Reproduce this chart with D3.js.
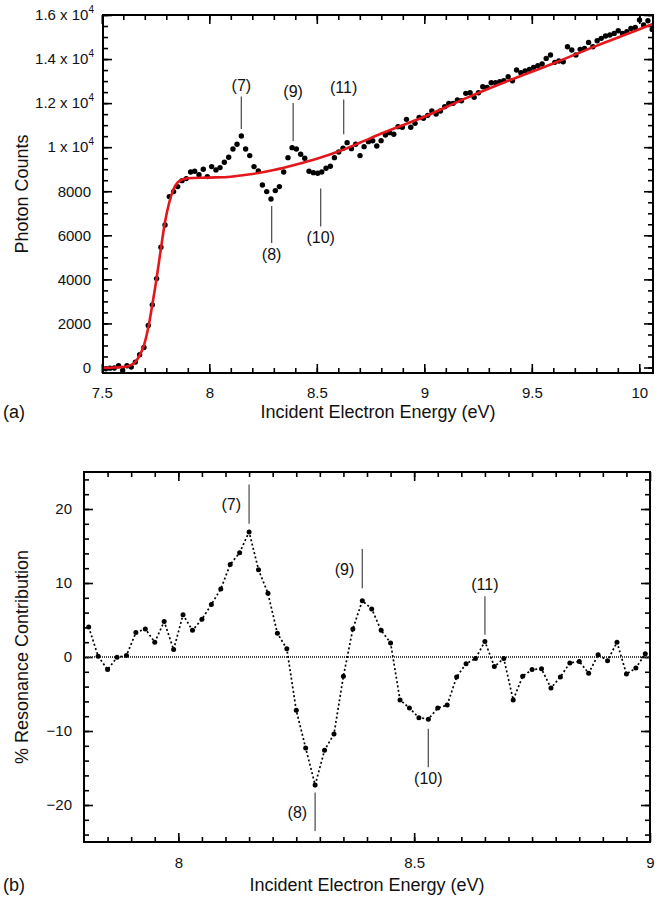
<!DOCTYPE html>
<html>
<head>
<meta charset="utf-8">
<script src="https://cdn.jsdelivr.net/npm/d3@7"></script>
<style>
  body { margin: 0; background: #fff; }
  svg { display: block; font-family: "Liberation Sans", Arial, sans-serif; }
</style>
</head>
<body>
<svg id="chart" width="665" height="915"></svg>
<script>
// ---- panel (a): photon counts vs incident energy (energies)
const energyA = [
  7.519, 7.538, 7.558, 7.578, 7.597, 7.617, 7.637, 7.656, 7.676, 7.696,
  7.716, 7.735, 7.755, 7.775, 7.794, 7.814, 7.834, 7.853, 7.873, 7.893,
  7.913, 7.932, 7.952, 7.972, 7.991, 8.011, 8.031, 8.050, 8.070, 8.090,
  8.110, 8.129, 8.149, 8.169, 8.188, 8.208, 8.228, 8.247, 8.267, 8.287,
  8.307, 8.326, 8.346, 8.366, 8.385, 8.405, 8.425, 8.444, 8.464, 8.484,
  8.504, 8.523, 8.543, 8.563, 8.582, 8.602, 8.622, 8.641, 8.661, 8.681,
  8.701, 8.720, 8.740, 8.760, 8.779, 8.799, 8.819, 8.838, 8.858, 8.878,
  8.898, 8.917, 8.937, 8.957, 8.976, 8.996, 9.016, 9.035, 9.055, 9.075,
  9.095, 9.114, 9.134, 9.154, 9.173, 9.193, 9.213, 9.232, 9.252, 9.272,
  9.292, 9.311, 9.331, 9.351, 9.370, 9.390, 9.410, 9.429, 9.449, 9.469,
  9.489, 9.508, 9.528, 9.548, 9.567, 9.587, 9.607, 9.626, 9.646, 9.666,
  9.686, 9.705, 9.725, 9.745, 9.764, 9.784, 9.804, 9.823, 9.843, 9.863,
  9.883, 9.902, 9.922, 9.942, 9.961, 9.981, 10.001, 10.020, 10.040, 10.060
];
const countsA = [
  -60, -30, -20, 77, -136, 77, 18, 245, 576, 907,
  1905, 2844, 4036, 5458, 6471, 7757, 7983, 8210, 8482, 8573,
  8875, 8905, 8754, 8996, 8664, 9119, 8968, 9074, 9315, 9541,
  9919, 10130, 10508, 9919, 9617, 9118, 8921, 8286, 7983, 7651,
  8029, 8210, 8875, 9526, 9979, 9919, 9677, 9495, 8905, 8845,
  8815, 8875, 9041, 9132, 9526, 9783, 9949, 10206, 9934, 10130,
  9617, 10025, 10251, 10290, 10055, 10297, 10554, 10660, 10584, 10932,
  10902, 11264, 10902, 11083, 11355, 11310, 11446, 11642, 11506, 11642,
  11839, 11990, 11990, 12142, 12111, 12444, 12474, 12263, 12474, 12746,
  12716, 12928, 12928, 12973, 13018, 13200, 13018, 13502, 13381, 13457,
  13532, 13623, 13699, 13774, 14031, 14183, 13850, 13910, 13880, 14560,
  14409, 14183, 14440, 14485, 14757, 14560, 14833, 14939, 15044, 15090,
  15165, 15286, 15165, 15241, 15392, 15438, 15770, 15543, 15740, 15347
];
// red fit curve
const fitEnergy = [7.5, 7.56, 7.61, 7.637, 7.656, 7.676, 7.696, 7.716, 7.735, 7.755, 7.775, 7.794, 7.814, 7.834,
  7.853, 7.873, 7.9, 8.0, 8.1, 8.2, 8.3, 8.4, 8.5, 8.6, 8.7, 8.8, 9.0, 9.2, 9.4, 9.6, 9.8, 10.0, 10.07];
const fitCounts = [-20, 0, 30, 120, 250, 550, 1000, 1800, 2850, 4050, 5400, 6600, 7500, 8100,
  8400, 8530, 8590, 8620, 8660, 8780, 8960, 9200, 9470, 9800, 10200, 10620, 11380, 12250, 13050, 13800, 14600, 15350, 15620];

const xTicksA = [7.5, 8, 8.5, 9, 9.5, 10];
const yTicksA = [0, 2000, 4000, 6000, 8000, 10000, 12000, 14000, 16000];
const yTickLabelsA = ["0", "2000", "4000", "6000", "8000", "1", "1.2", "1.4", "1.6"];

// ---- panel (b): % resonance contribution
const energyB = [
  7.81, 7.83, 7.85, 7.87, 7.89, 7.91, 7.93, 7.95, 7.97, 7.99,
  8.01, 8.03, 8.05, 8.07, 8.09, 8.11, 8.13, 8.15, 8.17, 8.19,
  8.21, 8.23, 8.25, 8.27, 8.29, 8.31, 8.33, 8.35, 8.37, 8.39,
  8.41, 8.43, 8.45, 8.47, 8.49, 8.51, 8.53, 8.55, 8.57, 8.59,
  8.61, 8.63, 8.65, 8.67, 8.69, 8.71, 8.73, 8.75, 8.77, 8.79,
  8.81, 8.83, 8.85, 8.87, 8.89, 8.91, 8.93, 8.95, 8.97, 8.99
];
const resonanceB = [
  4.05, 0.1, -1.7, -0.05, 0.2, 3.3, 3.8, 2.0, 4.8, 1.0,
  5.7, 3.6, 5.1, 7.1, 9.2, 12.5, 14.1, 16.9, 11.8, 8.6,
  3.2, 1.1, -7.2, -12.3, -17.3, -12.6, -10.4, -2.6, 3.8, 7.6,
  6.5, 3.6, 1.9, -5.8, -6.9, -8.2, -8.4, -6.9, -6.5, -2.7,
  -0.9, -0.2, 2.1, -1.3, -0.2, -5.8, -2.6, -1.7, -1.6, -4.2,
  -2.7, -0.8, -0.6, -2.2, 0.3, -0.5, 2.0, -2.3, -1.5, 0.45
];
const xTicksB = [8, 8.5, 9];
const yTicksB = [-20, -10, 0, 10, 20];

// resonance labels
const peakLabels = ["(7)", "(8)", "(9)", "(10)", "(11)"];
const peakEnergyA = [8.149, 8.29, 8.39, 8.518, 8.625];
const peakEnergyB = [8.15, 8.29, 8.39, 8.53, 8.65];

const svg = d3.select("#chart");

const tickFont = "15px";
const titleFont = "18px";

const drawFrame = (g, w, h) => {
  g.append("rect")
    .attr("x", 0)
    .attr("y", 0)
    .attr("width", w)
    .attr("height", h)
    .attr("fill", "none")
    .attr("stroke", "#000")
    .attr("stroke-width", 2);
};

const styleAxis = g => {
  g.select(".domain").remove();
  g.selectAll("line").attr("stroke", "#000").attr("stroke-width", 1.6);
  g.selectAll("text").attr("font-size", tickFont).attr("fill", "#111").attr("font-family", "Liberation Sans, Arial, sans-serif");
};

/* ============ panel (a) ============ */
const A = { left: 103, top: 15, w: 550, h: 358 };
const xA = d3.scaleLinear().domain([7.5056, 10.0637]).range([0, A.w]);
const yA = d3.scaleLinear().domain([-250, 16000]).range([A.h, 0]);

const gA = svg.append("g").attr("transform", `translate(${A.left},${A.top})`);

const minorXA = d3.range(7.6, 10.05, 0.1);
const minorYA = d3.range(0, 16001, 500);

// minor ticks, all four sides
gA.append("g").attr("transform", `translate(0,${A.h})`)
  .call(d3.axisBottom(xA).tickValues(minorXA).tickSize(-5).tickFormat("")).call(styleAxis);
gA.append("g")
  .call(d3.axisTop(xA).tickValues(minorXA).tickSize(-5).tickFormat("")).call(styleAxis);
gA.append("g")
  .call(d3.axisLeft(yA).tickValues(minorYA).tickSize(-5).tickFormat("")).call(styleAxis);
gA.append("g").attr("transform", `translate(${A.w},0)`)
  .call(d3.axisRight(yA).tickValues(minorYA).tickSize(-5).tickFormat("")).call(styleAxis);

// major ticks + labels
gA.append("g").attr("transform", `translate(0,${A.h})`)
  .call(d3.axisBottom(xA).tickValues(xTicksA).tickSizeInner(-9).tickSizeOuter(0).tickPadding(14).tickFormat(d3.format("")))
  .call(styleAxis);
gA.append("g")
  .call(d3.axisTop(xA).tickValues(xTicksA).tickSize(-9).tickFormat(""))
  .call(styleAxis);
gA.append("g").attr("transform", `translate(${A.w},0)`)
  .call(d3.axisRight(yA).tickValues(yTicksA).tickSize(-9).tickFormat(""))
  .call(styleAxis);

const yAxisA = gA.append("g")
  .call(d3.axisLeft(yA).tickValues(yTicksA).tickSizeInner(-9).tickSizeOuter(0).tickPadding(12).tickFormat((d, i) => yTickLabelsA[i]))
  .call(styleAxis);

// "x 10^4" labels
yAxisA.selectAll(".tick text").each(function (d, i) {
  if (d < 10000) return;
  const t = d3.select(this).text("").attr("dx", "3");
  t.append("tspan").text(yTickLabelsA[i] + " x 10");
  t.append("tspan").attr("dy", "-7").attr("font-size", "10px").text("4");
});

const lineA = d3.line()
  .x((d, i) => xA(fitEnergy[i]))
  .y(d => yA(d))
  .curve(d3.curveMonotoneX);

const clipA = svg.append("clipPath").attr("id", "clipA");
clipA.append("rect").attr("width", A.w).attr("height", A.h);

const plotA = gA.append("g").attr("clip-path", "url(#clipA)");

plotA.append("g")
  .selectAll("circle")
  .data(countsA)
  .join("circle")
  .attr("cx", (d, i) => xA(energyA[i]))
  .attr("cy", d => yA(d))
  .attr("r", 2.7)
  .attr("fill", "#000");

plotA.append("path")
  .datum(fitCounts)
  .attr("d", lineA)
  .attr("fill", "none")
  .attr("stroke", "#e4161b")
  .attr("stroke-width", 2.6);

drawFrame(gA, A.w, A.h);

// annotation lines for panel (a): line ends in counts, label above or below
const annotA = [
  { up: true, y1: 12300, y2: 10830 },
  { up: false, y1: 7330, y2: 5650 },
  { up: true, y1: 12000, y2: 10280 },
  { up: false, y1: 8130, y2: 6400 },
  { up: true, y1: 12170, y2: 10590 }
];
const annA = gA.append("g");
annotA.forEach((a, i) => {
  const x = xA(peakEnergyA[i]);
  annA.append("line")
    .attr("x1", x).attr("x2", x)
    .attr("y1", yA(a.y1)).attr("y2", yA(a.y2))
    .attr("stroke", "#555").attr("stroke-width", 1.3);
  annA.append("text")
    .attr("x", x)
    .attr("y", a.up ? yA(a.y1) - 6 : yA(a.y2) + 17)
    .attr("text-anchor", "middle")
    .attr("font-size", "16px")
    .attr("fill", "#111")
    .text(peakLabels[i]);
});

svg.append("text")
  .attr("transform", `translate(28,${A.top + A.h / 2}) rotate(-90)`)
  .attr("text-anchor", "middle")
  .attr("font-size", titleFont)
  .attr("fill", "#111")
  .text("Photon Counts");

svg.append("text")
  .attr("x", A.left + A.w / 2)
  .attr("y", 418)
  .attr("text-anchor", "middle")
  .attr("font-size", titleFont)
  .attr("fill", "#111")
  .text("Incident Electron Energy (eV)");

svg.append("text")
  .attr("x", 3)
  .attr("y", 418)
  .attr("font-size", titleFont)
  .attr("fill", "#111")
  .text("(a)");

/* ============ panel (b) ============ */
const B = { left: 84, top: 472, w: 566, h: 370 };
const xB = d3.scaleLinear().domain([7.8, 9.0]).range([0, B.w]);
const yB = d3.scaleLinear().domain([-25, 25]).range([B.h, 0]);

const gB = svg.append("g").attr("transform", `translate(${B.left},${B.top})`);

const minorXB = d3.range(7.85, 8.99, 0.05);
const minorYB = d3.range(-24, 25, 2);

gB.append("g").attr("transform", `translate(0,${B.h})`)
  .call(d3.axisBottom(xB).tickValues(minorXB).tickSize(-5).tickFormat("")).call(styleAxis);
gB.append("g")
  .call(d3.axisTop(xB).tickValues(minorXB).tickSize(-5).tickFormat("")).call(styleAxis);
gB.append("g")
  .call(d3.axisLeft(yB).tickValues(minorYB).tickSize(-5).tickFormat("")).call(styleAxis);
gB.append("g").attr("transform", `translate(${B.w},0)`)
  .call(d3.axisRight(yB).tickValues(minorYB).tickSize(-5).tickFormat("")).call(styleAxis);

gB.append("g").attr("transform", `translate(0,${B.h})`)
  .call(d3.axisBottom(xB).tickValues(xTicksB).tickSizeInner(-9).tickSizeOuter(0).tickPadding(15).tickFormat(d3.format("")))
  .call(styleAxis);
gB.append("g")
  .call(d3.axisTop(xB).tickValues(xTicksB).tickSize(-9).tickFormat(""))
  .call(styleAxis);
gB.append("g")
  .call(d3.axisLeft(yB).tickValues(yTicksB).tickSizeInner(-9).tickSizeOuter(0).tickPadding(12).tickFormat(d3.format("")))
  .call(styleAxis);
gB.append("g").attr("transform", `translate(${B.w},0)`)
  .call(d3.axisRight(yB).tickValues(yTicksB).tickSize(-9).tickFormat(""))
  .call(styleAxis);

// zero reference
gB.append("line")
  .attr("x1", 0).attr("x2", B.w)
  .attr("y1", yB(0)).attr("y2", yB(0))
  .attr("stroke", "#444")
  .attr("stroke-width", 2)
  .attr("stroke-dasharray", "1,1");

const lineB = d3.line()
  .x((d, i) => xB(energyB[i]))
  .y(d => yB(d));

gB.append("path")
  .datum(resonanceB)
  .attr("d", lineB)
  .attr("fill", "none")
  .attr("stroke", "#000")
  .attr("stroke-width", 1.7)
  .attr("stroke-dasharray", "2,2.4");

gB.append("g")
  .selectAll("circle")
  .data(resonanceB)
  .join("circle")
  .attr("cx", (d, i) => xB(energyB[i]))
  .attr("cy", d => yB(d))
  .attr("r", 2.5)
  .attr("fill", "#000");

drawFrame(gB, B.w, B.h);

// annotation lines for panel (b)
const annotB = [
  { y1: 23.3, y2: 18.0, side: "left" },
  { y1: -18.3, y2: -23.5, side: "left" },
  { y1: 14.6, y2: 9.3, side: "left" },
  { y1: -9.7, y2: -14.9, side: "below" },
  { y1: 8.2, y2: 3.0, side: "above" }
];
const annB = gB.append("g");
annotB.forEach((a, i) => {
  const x = xB(peakEnergyB[i]);
  annB.append("line")
    .attr("x1", x).attr("x2", x)
    .attr("y1", yB(a.y1)).attr("y2", yB(a.y2))
    .attr("stroke", "#555").attr("stroke-width", 1.3);
  const t = annB.append("text")
    .attr("font-size", "16px")
    .attr("fill", "#111")
    .text(peakLabels[i]);
  if (a.side === "left") {
    t.attr("x", x - 8).attr("y", (yB(a.y1) + yB(a.y2)) / 2 + 6).attr("text-anchor", "end");
  } else if (a.side === "below") {
    t.attr("x", x).attr("y", yB(a.y2) + 17).attr("text-anchor", "middle");
  } else {
    t.attr("x", x).attr("y", yB(a.y1) - 6).attr("text-anchor", "middle");
  }
});

svg.append("text")
  .attr("transform", `translate(28,${B.top + B.h / 2}) rotate(-90)`)
  .attr("text-anchor", "middle")
  .attr("font-size", titleFont)
  .attr("fill", "#111")
  .text("% Resonance Contribution");

svg.append("text")
  .attr("x", B.left + B.w / 2)
  .attr("y", 891)
  .attr("text-anchor", "middle")
  .attr("font-size", titleFont)
  .attr("fill", "#111")
  .text("Incident Electron Energy (eV)");

svg.append("text")
  .attr("x", 3)
  .attr("y", 891)
  .attr("font-size", titleFont)
  .attr("fill", "#111")
  .text("(b)");
</script>
</body>
</html>
